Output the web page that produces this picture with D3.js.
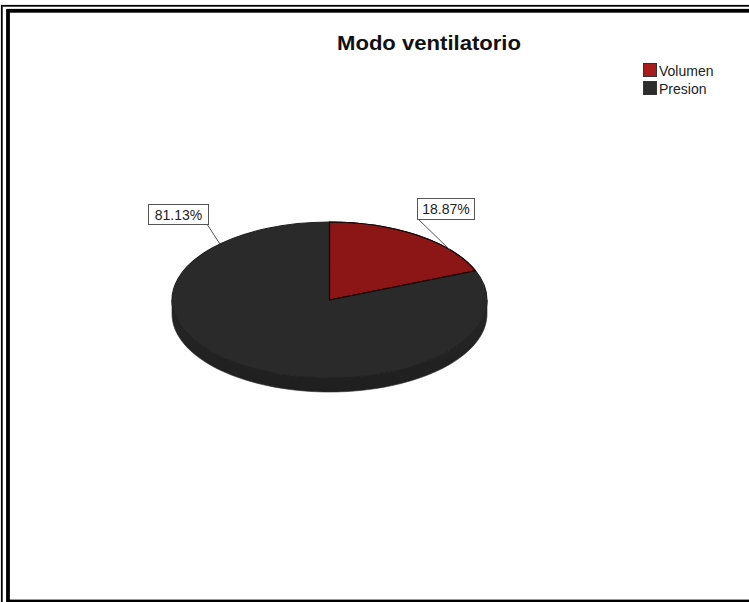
<!DOCTYPE html>
<html>
<head>
<meta charset="utf-8">
<script src="https://cdn.jsdelivr.net/npm/d3@7"></script>
<style>
  html, body { margin: 0; padding: 0; background: #fff; }
  svg { display: block; }
  text { font-family: "Liberation Sans", Arial, sans-serif; }
</style>
</head>
<body>
<svg id="chart" width="749" height="602"></svg>
<script>
// Data
const title = "Modo ventilatorio";
const categories = ["Volumen", "Presion"];
const percents = [18.87, 81.13];
const colors = ["#8c1515", "#2a2a2a"];
const legendColors = ["#a81c1c", "#2c2c2c"];
const labelTexts = ["18.87%", "81.13%"];

// Layout
const W = 749, H = 602;
const cx = 329.5, cy = 300;
const rx = 157.5, ry = 78, depth = 14;
const k = ry / rx;

const svg = d3.select("#chart");

// Frame: thin outer line + thick inner line
svg.append("rect").attr("x", 1.8).attr("y", 5.8).attr("width", W + 10).attr("height", H + 10)
  .attr("fill", "none").attr("stroke", "#000").attr("stroke-width", 1.8);
svg.append("rect").attr("x", 8).attr("y", 10.8).attr("width", W + 10).attr("height", 590.7)
  .attr("fill", "none").attr("stroke", "#000").attr("stroke-width", 3.8);

// Title
svg.append("text").attr("x", 429).attr("y", 50).attr("text-anchor", "middle")
  .attr("font-size", 21).attr("font-weight", "bold").attr("fill", "#111")
  .attr("textLength", 184).attr("lengthAdjust", "spacingAndGlyphs")
  .text(title);

// Pie layout (clockwise from 12 o'clock, data order)
const pie = d3.pie().sort(null).value(d => d)
  .startAngle(0).endAngle(2 * Math.PI);
const arcs = pie(percents);

// Point on the ellipse for a d3 angle
const pt = (a, dy = 0) => [cx + rx * Math.sin(a), cy - ry * Math.cos(a) + dy];

// Side (extruded rim) for the visible front half
const defs = svg.append("defs");
const grad = defs.append("linearGradient").attr("id", "side").attr("x1", 0).attr("y1", 0).attr("x2", 0).attr("y2", 1);
grad.append("stop").attr("offset", 0).attr("stop-color", "#262626");
grad.append("stop").attr("offset", 1).attr("stop-color", "#1f1f1f");

const sideG = svg.append("g");
arcs.forEach((d, i) => {
  const a0 = Math.max(d.startAngle, Math.PI / 2);
  const a1 = Math.min(d.endAngle, 3 * Math.PI / 2);
  if (a1 <= a0) return;
  const n = 80;
  const top = d3.range(n + 1).map(j => pt(a0 + (a1 - a0) * j / n));
  const bot = d3.range(n + 1).map(j => pt(a1 - (a1 - a0) * j / n, depth));
  sideG.append("path")
    .attr("d", d3.line()(top.concat(bot)) + "Z")
    .attr("fill", i === 1 ? "url(#side)" : d3.color(colors[i]).darker(0.6))
    .attr("stroke", "#2a2a2a").attr("stroke-width", 0.6);
});

// Top surface: circular arcs squashed into an ellipse
const arc = d3.arc().innerRadius(0).outerRadius(rx);
const topG = svg.append("g").attr("transform", `translate(${cx},${cy}) scale(1,${k})`);
topG.selectAll("path").data(arcs).join("path")
  .attr("d", arc)
  .attr("fill", (d, i) => colors[i])
  .attr("stroke", (d, i) => i === 0 ? "#1a0606" : "#202020").attr("stroke-width", 1.1)
  .attr("vector-effect", "non-scaling-stroke")
  .attr("stroke-linejoin", "round");
// Dark edges of the red slice drawn on top
topG.append("path").datum(arcs[0]).attr("d", arc)
  .attr("fill", "none").attr("stroke", "#1a0606").attr("stroke-width", 1.1)
  .attr("vector-effect", "non-scaling-stroke").attr("stroke-linejoin", "round");

// Percentage labels with leader lines
const labelAnchorAngles = [0.552 * Math.PI / 2, 2 * Math.PI - 0.77];
const labelBoxes = [
  { x: 417, y: 198, w: 57, h: 21 },
  { x: 148, y: 204, w: 60, h: 20 }
];
const labelG = svg.append("g");
arcs.forEach((d, i) => {
  const b = labelBoxes[i];
  const p = pt(labelAnchorAngles[i]);
  const start = i === 0 ? [b.x + 1, b.y + b.h] : [b.x + b.w - 1, b.y + b.h];
  labelG.append("line")
    .attr("x1", start[0]).attr("y1", start[1]).attr("x2", p[0]).attr("y2", p[1])
    .attr("stroke", "#555").attr("stroke-width", 1);
  labelG.append("rect")
    .attr("x", b.x + 0.5).attr("y", b.y + 0.5).attr("width", b.w).attr("height", b.h)
    .attr("fill", "#fff").attr("stroke", "#555").attr("stroke-width", 1);
  labelG.append("text")
    .attr("x", b.x + b.w / 2 + 0.5).attr("y", b.y + b.h / 2 + 5.5)
    .attr("text-anchor", "middle").attr("font-size", 14).attr("fill", "#222")
    .text(labelTexts[i]);
});

// Legend
const legend = svg.append("g").attr("transform", "translate(643,63)");
categories.forEach((c, i) => {
  const g = legend.append("g").attr("transform", `translate(0,${i * 18})`);
  g.append("rect").attr("x", 0.5).attr("y", 0.5).attr("width", 13).attr("height", 13)
    .attr("fill", legendColors[i]).attr("stroke", "#333").attr("stroke-width", 1);
  g.append("text").attr("x", 16).attr("y", 12.5)
    .attr("font-size", 14).attr("fill", "#222").text(c);
});
</script>
</body>
</html>
